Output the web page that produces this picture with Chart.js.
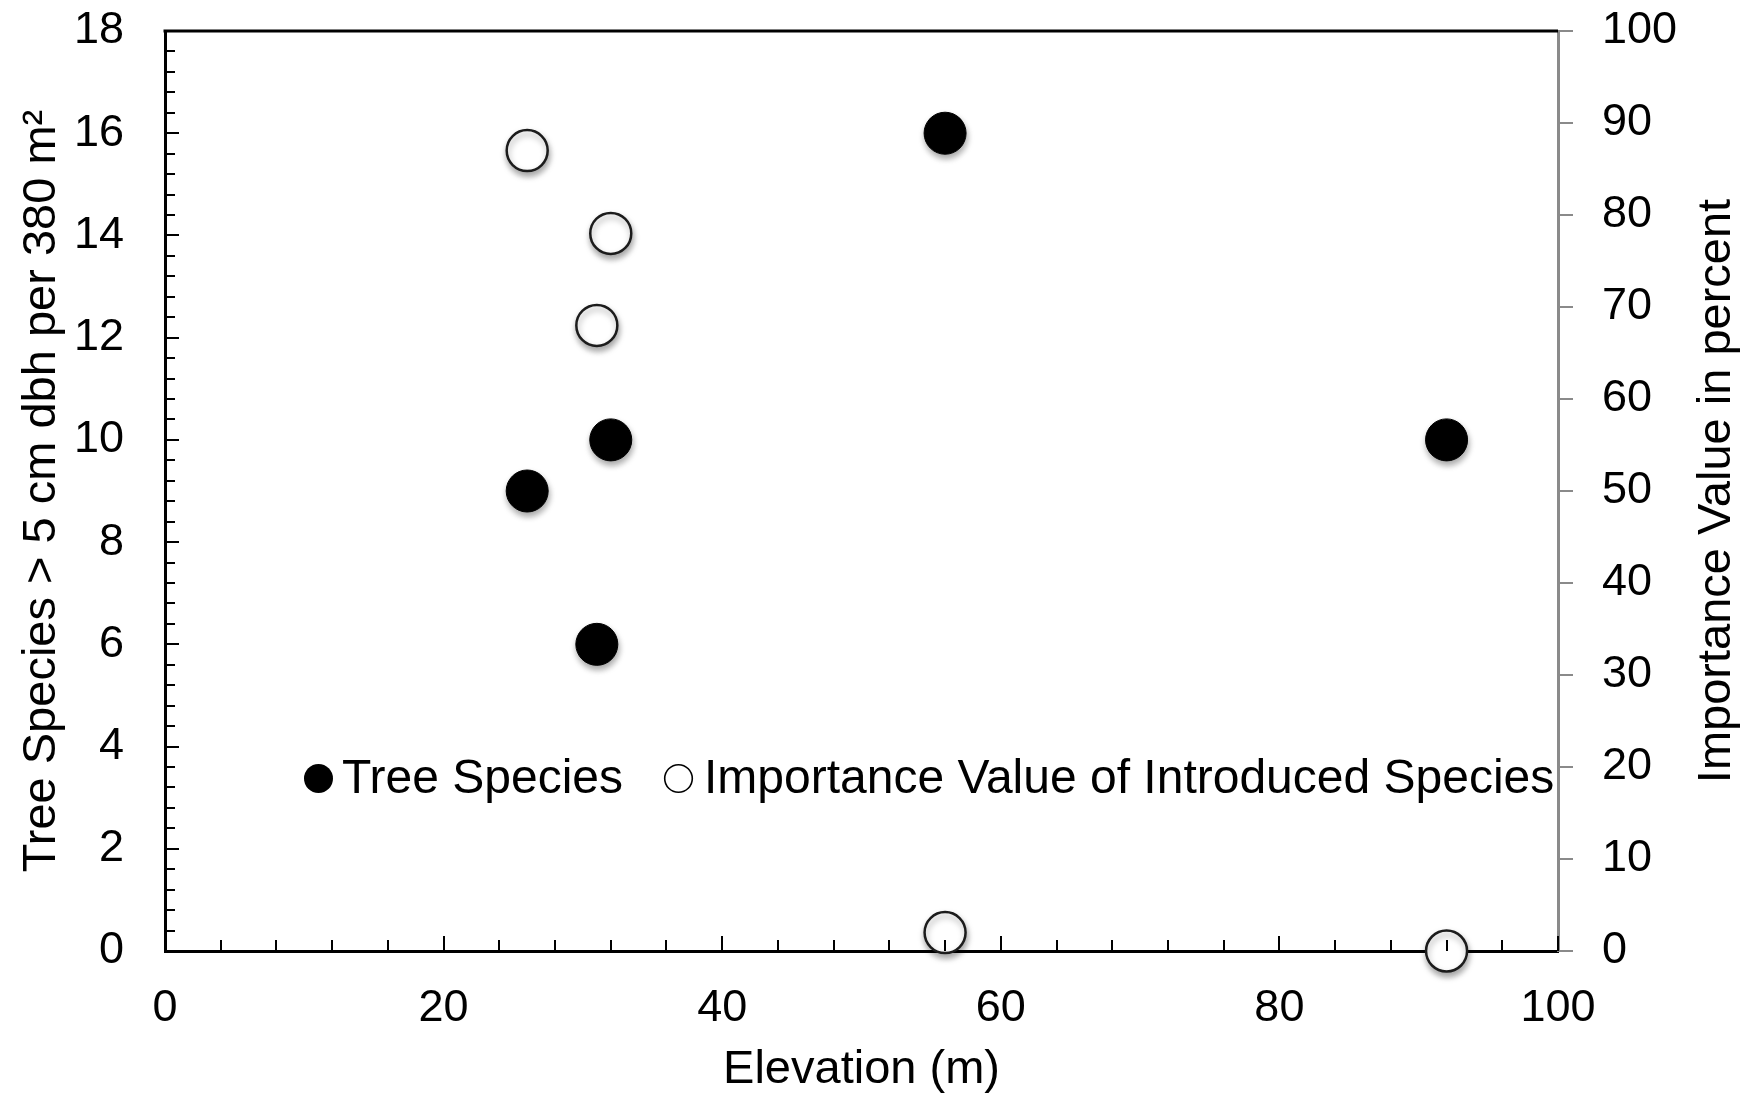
<!DOCTYPE html>
<html><head><meta charset="utf-8">
<script src="https://cdn.jsdelivr.net/npm/chart.js@4.4.1/dist/chart.umd.min.js"></script>
<style>html,body{margin:0;padding:0;background:#fff;} #wrap{width:1747px;height:1097px;position:relative;}</style>
</head><body><div id="wrap"><canvas id="c" width="1747" height="1097"></canvas></div>
<script>
// ---- data ----
const elevation = [26, 31, 32, 56, 92];
const treeSpecies = [9, 6, 10, 16, 10];
const importanceValue = [87, 68, 78, 2, 0];
const seriesLabels = ['Tree Species', 'Importance Value of Introduced Species'];
const xTitle = 'Elevation (m)';
const yTitle = 'Tree Species > 5 cm dbh per 380 m²';
const y2Title = 'Importance Value in percent';
const xRange = [0, 100];
const yRange = [0, 18];
const y2Range = [0, 100];
const xMajorStep = 20, xMinorStep = 4;
const yMajorStep = 2, yMinorStep = 0.4;
const y2MajorStep = 10;

const FONT = '"Liberation Sans", Arial, sans-serif';
const GRAY = '#8a8a8a';

const treePoints = elevation.map((x, i) => ({x: x, y: treeSpecies[i]}));
const ivPoints = elevation.map((x, i) => ({x: x, y: importanceValue[i]}));

const shadowPlugin = {
  id: 'markerShadow',
  beforeDatasetsDraw(chart) {
    const ctx = chart.ctx;
    ctx.save();
    ctx.shadowColor = 'rgba(0,0,0,0.35)';
    ctx.shadowBlur = 6;
    ctx.shadowOffsetX = 1;
    ctx.shadowOffsetY = 4;
  },
  afterDatasetsDraw(chart) { chart.ctx.restore(); }
};

function innerTicks(ctx, scale, step, len, horizontal, area) {
  const n = Math.round((scale.max - scale.min) / step);
  for (let i = 0; i <= n; i++) {
    const v = scale.min + i * step;
    const p = Math.round(scale.getPixelForValue(v));
    ctx.beginPath();
    if (horizontal) { ctx.moveTo(p, area.bottom); ctx.lineTo(p, area.bottom - len); }
    else { ctx.moveTo(area.left, p); ctx.lineTo(area.left + len, p); }
    ctx.stroke();
  }
}

const decorPlugin = {
  id: 'decor',
  afterDraw(chart) {
    const ctx = chart.ctx, a = chart.chartArea;
    ctx.save();
    // top frame line
    ctx.strokeStyle = '#000'; ctx.lineWidth = 3;
    ctx.beginPath(); ctx.moveTo(a.left - 1.5, a.top); ctx.lineTo(a.right, a.top); ctx.stroke();
    // inward ticks
    ctx.lineWidth = 2;
    innerTicks(ctx, chart.scales.x, xMinorStep, 11, true, a);
    innerTicks(ctx, chart.scales.x, xMajorStep, 15, true, a);
    innerTicks(ctx, chart.scales.y, yMinorStep, 10, false, a);
    innerTicks(ctx, chart.scales.y, yMajorStep, 14, false, a);
    // right axis title (reads bottom to top)
    ctx.fillStyle = '#000';
    ctx.font = '47px ' + FONT;
    ctx.textAlign = 'center'; ctx.textBaseline = 'middle';
    ctx.translate(1717, (a.top + a.bottom) / 2);
    ctx.rotate(-Math.PI / 2);
    ctx.fillText(y2Title, 0, 0);
    ctx.restore();

    // legend inside plot
    ctx.save();
    ctx.font = '48px ' + FONT;
    ctx.textAlign = 'left'; ctx.textBaseline = 'alphabetic';
    ctx.fillStyle = '#000';
    const ly = 778.5;
    const items = [
      {mx: 318.5, tx: 342, filled: true},
      {mx: 678.5, tx: 704, filled: false}
    ];
    chart.data.datasets.forEach((ds, i) => {
      const it = items[i];
      ctx.beginPath();
      ctx.arc(it.mx, ly, it.filled ? 14.5 : 13.8, 0, Math.PI * 2);
      if (it.filled) { ctx.fillStyle = '#000'; ctx.fill(); }
      else { ctx.fillStyle = '#fff'; ctx.fill(); ctx.strokeStyle = '#000'; ctx.lineWidth = 1.6; ctx.stroke(); }
      ctx.fillStyle = '#000';
      ctx.fillText(ds.label, it.tx, 793);
    });
    ctx.restore();
  }
};

new Chart(document.getElementById('c'), {
  type: 'scatter',
  data: {
    datasets: [
      {
        label: seriesLabels[0], data: treePoints, yAxisID: 'y',
        pointRadius: 21, pointHoverRadius: 21, pointStyle: 'circle',
        backgroundColor: '#000', borderColor: '#000', borderWidth: 1, clip: false
      },
      {
        label: seriesLabels[1], data: ivPoints, yAxisID: 'y2',
        pointRadius: 20.5, pointHoverRadius: 20.5, pointStyle: 'circle',
        backgroundColor: '#fff', borderColor: '#1c1c1c', borderWidth: 2.5, clip: false
      }
    ]
  },
  options: {
    responsive: false, animation: false, devicePixelRatio: 1,
    layout: {padding: {left: 0, right: 0, top: 31, bottom: 0}},
    plugins: {legend: {display: false}, tooltip: {enabled: false}},
    scales: {
      x: {
        type: 'linear', position: 'bottom', min: xRange[0], max: xRange[1],
        ticks: {stepSize: xMajorStep, color: '#000', font: {family: FONT, size: 45}, padding: 31, maxRotation: 0},
        grid: {drawOnChartArea: false, drawTicks: false},
        border: {display: true, color: '#000', width: 3},
        title: {display: true, text: xTitle, color: '#000', font: {family: FONT, size: 47, lineHeight: 1.15}, padding: {top: 0, bottom: 0}},
        afterFit(s) { s.height = 146; s.paddingLeft = 0; s.paddingRight = 0; }
      },
      y: {
        type: 'linear', position: 'left', min: yRange[0], max: yRange[1],
        ticks: {stepSize: yMajorStep, color: '#000', font: {family: FONT, size: 45}, padding: 41},
        grid: {drawOnChartArea: false, drawTicks: false},
        border: {display: true, color: '#000', width: 3},
        title: {display: true, text: yTitle, color: '#000', font: {family: FONT, size: 47, lineHeight: 1.2}, padding: {top: 14, bottom: 0}},
        afterFit(s) { s.width = 165; s.paddingTop = 0; s.paddingBottom = 0; }
      },
      y2: {
        type: 'linear', position: 'right', min: y2Range[0], max: y2Range[1],
        ticks: {stepSize: y2MajorStep, color: '#000', font: {family: FONT, size: 45}, padding: 29},
        grid: {drawOnChartArea: false, drawTicks: true, tickLength: 15, color: GRAY, lineWidth: 2},
        border: {display: true, color: GRAY, width: 3},
        title: {display: false, text: y2Title},
        afterFit(s) { s.width = 189; s.paddingTop = 0; s.paddingBottom = 0; }
      }
    }
  },
  plugins: [shadowPlugin, decorPlugin]
});
</script>
</body></html>
